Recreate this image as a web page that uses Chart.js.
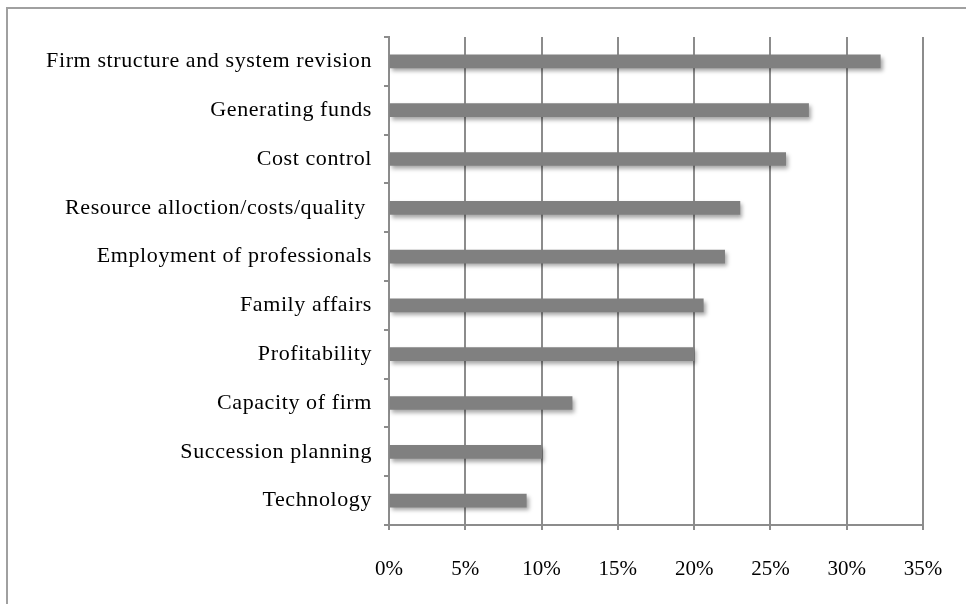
<!DOCTYPE html>
<html>
<head>
<meta charset="utf-8">
<script src="https://cdn.jsdelivr.net/npm/chart.js@4"></script>
<style>
html,body{margin:0;padding:0;background:#fff;}
#wrap{width:966px;height:604px;position:relative;}
</style>
</head>
<body>
<div id="wrap"><canvas id="c" width="966" height="604"></canvas></div>
<script>
const categories = [
  "Firm structure and system revision",
  "Generating funds",
  "Cost control",
  "Resource alloction/costs/quality ",
  "Employment of professionals",
  "Family affairs",
  "Profitability",
  "Capacity of firm",
  "Succession planning",
  "Technology"
];
const values = [32.2, 27.5, 26, 23, 22, 20.6, 20, 12, 10, 9];
const xTicks = [0, 5, 10, 15, 20, 25, 30, 35];

const GRID = '#8c8c8c';

const framePlugin = {
  id: 'frame',
  beforeDraw(chart) {
    const ctx = chart.ctx;
    ctx.save();
    ctx.fillStyle = '#fff';
    ctx.fillRect(0, 0, chart.width, chart.height);
    ctx.strokeStyle = '#a0a0a0';
    ctx.lineWidth = 2;
    ctx.beginPath();
    ctx.moveTo(7, chart.height + 5);
    ctx.lineTo(7, 8);
    ctx.lineTo(chart.width + 5, 8);
    ctx.stroke();
    ctx.restore();
    const y = chart.scales.y;
    if (!y._lsWrapped) {
      const orig = y.drawLabels;
      y.drawLabels = function(area) {
        this.ctx.save();
        this.ctx.letterSpacing = '0.6px';
        orig.call(this, area);
        this.ctx.restore();
      };
      y._lsWrapped = true;
    }
  },
  beforeDatasetsDraw(chart) {
    const ctx = chart.ctx;
    ctx.save();
    ctx.shadowColor = 'rgba(0,0,0,0.35)';
    ctx.shadowBlur = 4;
    ctx.shadowOffsetX = 2;
    ctx.shadowOffsetY = 3;
  },
  afterDatasetsDraw(chart) {
    chart.ctx.restore();
  }
};

new Chart(document.getElementById('c'), {
  type: 'bar',
  data: {
    labels: categories,
    datasets: [{
      data: values,
      backgroundColor: '#808080',
      borderWidth: 0,
      barThickness: 13
    }]
  },
  options: {
    indexAxis: 'y',
    responsive: false,
    animation: false,
    devicePixelRatio: 1,
    layout: { padding: { left: 0, top: 37, right: 43, bottom: 0 } },
    plugins: { legend: { display: false }, tooltip: { enabled: false } },
    scales: {
      x: {
        min: 0, max: 35,
        afterBuildTicks(scale) { scale.ticks = xTicks.map(v => ({ value: v })); },
        afterFit(scale) { scale.height = 604 - 525; scale.paddingRight = 20; scale.paddingLeft = 0; },
        ticks: {
          callback: v => v + '%',
          color: '#000',
          font: { family: 'Liberation Serif', size: 21 },
          padding: 27,
          maxRotation: 0,
          autoSkip: false
        },
        grid: { color: GRID, lineWidth: 2, tickLength: 5, drawTicks: true },
        border: { color: GRID, width: 2 }
      },
      y: {
        afterFit(scale) { scale.width = 389; },
        ticks: {
          color: '#000',
          font: { family: 'Liberation Serif', size: 22 },
          padding: 12,
          autoSkip: false
        },
        grid: { drawOnChartArea: false, color: GRID, lineWidth: 2, tickLength: 5, offset: true },
        border: { color: GRID, width: 2 }
      }
    }
  },
  plugins: [framePlugin]
});
</script>
</body>
</html>
